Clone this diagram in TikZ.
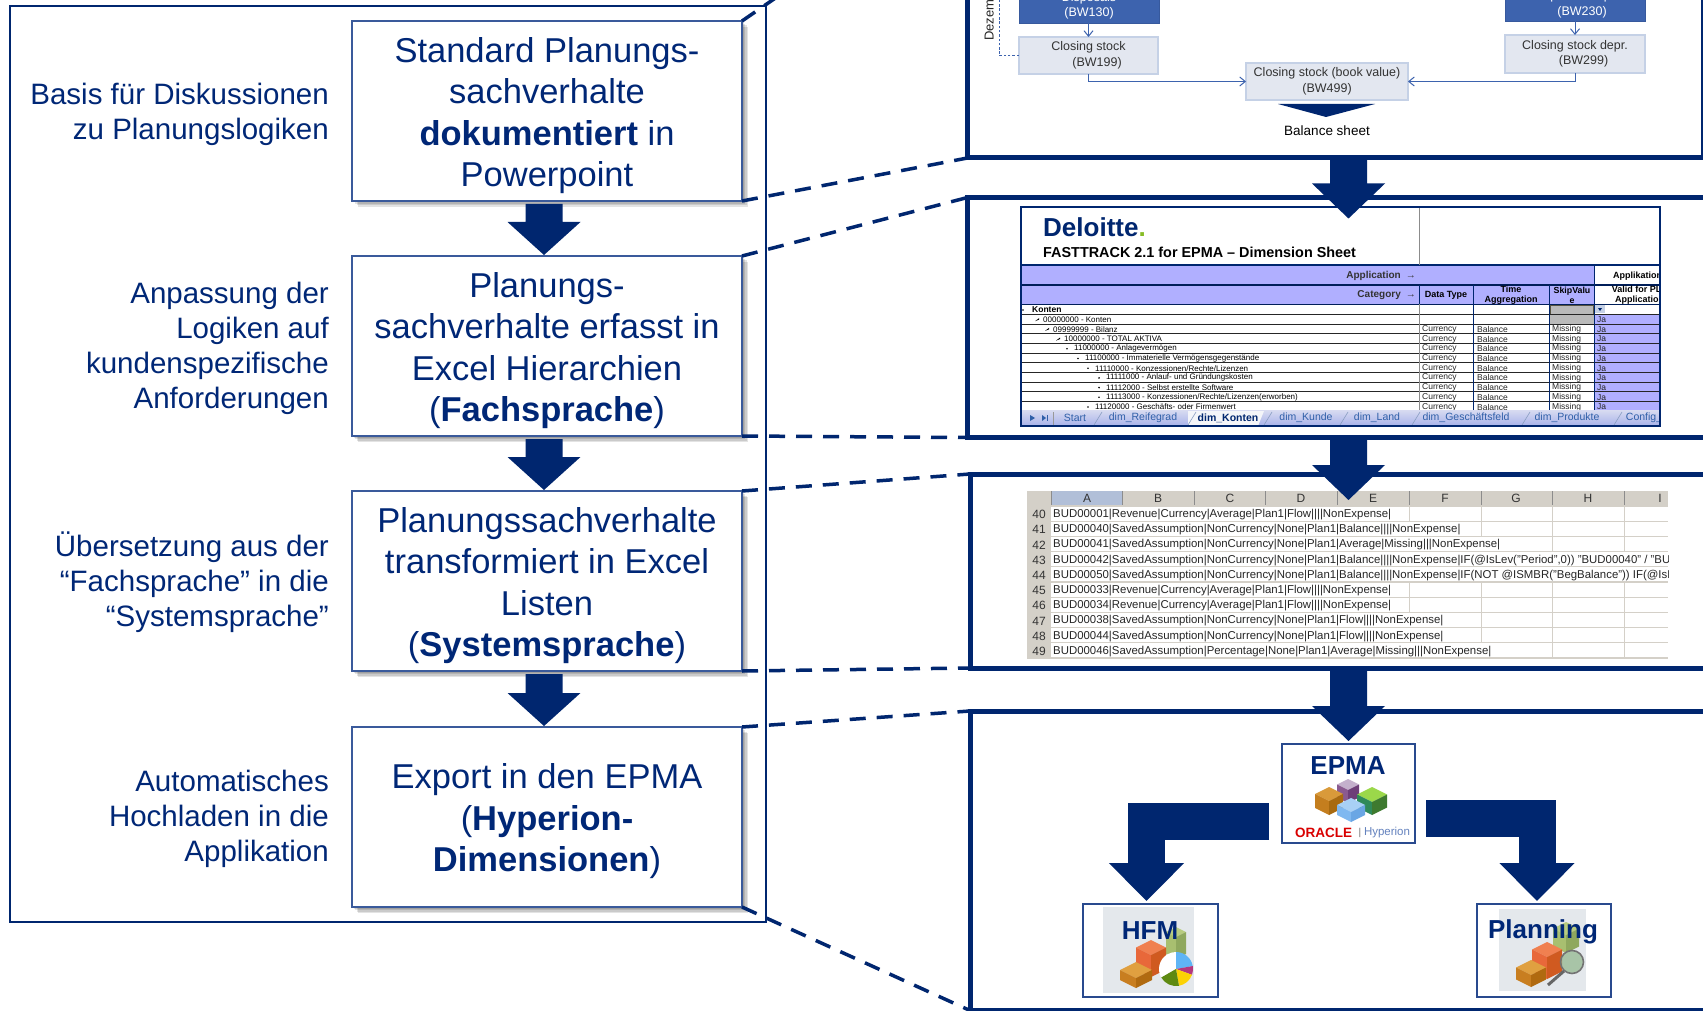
\documentclass[tikz,border=0pt]{standalone}
\usepackage{fontspec}
\setmainfont{Liberation Sans}
\usetikzlibrary{arrows.meta,calc,shapes.geometric}
\definecolor{navy}{HTML}{00266F}
\definecolor{txtnavy}{HTML}{002776}
\definecolor{boxline}{HTML}{3A5A9B}
\definecolor{midblue}{HTML}{3D63AE}
\definecolor{paleblue}{HTML}{E3E7F0}
\definecolor{paleline}{HTML}{C5D1E6}
\definecolor{lav}{HTML}{B0AFFF}
\definecolor{xlgrey}{HTML}{D4D0C8}
\definecolor{xlsel}{HTML}{B1BFD8}
\definecolor{tabblue}{HTML}{2F5FA8}
\definecolor{icongrey}{HTML}{E4E8EC}
\definecolor{purT}{HTML}{C4B0CC}\definecolor{purL}{HTML}{8A5A90}\definecolor{purR}{HTML}{6E3F78}
\definecolor{grnT}{HTML}{9BD84A}\definecolor{grnL}{HTML}{2F8A5A}\definecolor{grnR}{HTML}{3E7A2F}
\definecolor{ambT}{HTML}{D99A3A}\definecolor{ambL}{HTML}{C47E1E}\definecolor{ambR}{HTML}{A86A10}
\definecolor{aquT}{HTML}{A8D0F5}\definecolor{aquL}{HTML}{7FB8F0}\definecolor{aquR}{HTML}{6AA6E4}
\definecolor{olvT}{HTML}{B8CC80}\definecolor{olvL}{HTML}{A8BF70}\definecolor{olvR}{HTML}{8FA85E}
\definecolor{redT}{HTML}{F08050}\definecolor{redL}{HTML}{E8683A}\definecolor{redR}{HTML}{D05A20}
\definecolor{brnT}{HTML}{E0A040}\definecolor{brnL}{HTML}{C87E20}\definecolor{brnR}{HTML}{B06A10}
\definecolor{pieB}{HTML}{5FB4F5}\definecolor{pieG}{HTML}{5E8A12}\definecolor{lens}{HTML}{8FB58A}
\definecolor{dltgreen}{HTML}{86BC25}
\newcommand\fsz[2]{\fontsize{#1}{#2}\selectfont}
\newcommand\firstline{\rule{0pt}{34pt}}
\newcommand\sqbox[7]{\node[#1,anchor=north west,inner sep=0pt,outer sep=0pt,align=center,minimum width={(#5-#3)*1pt},minimum height={(#6-#4)*1pt}] (#2) at (#3,#4) {#7};}
\newcommand\shadowed[4]{\foreach \d in {1.5,3,4.5,6}{\fill[black,opacity=.11] ($(#1,#2)+(\d,\d)$) rectangle ($(#3,#4)+(\d,\d)$);}}
\newcommand\cube[7]{% cx top halfw height top left right
  \fill[#5] (#1,#2) -- ({#1+#3},{#2+#3*.5}) -- (#1,{#2+#3}) -- ({#1-#3},{#2+#3*.5}) -- cycle;
  \fill[#6] ({#1-#3},{#2+#3*.5}) -- (#1,{#2+#3}) -- (#1,{#2+#3+#4}) -- ({#1-#3},{#2+#3*.5+#4}) -- cycle;
  \fill[#7] ({#1+#3},{#2+#3*.5}) -- (#1,{#2+#3}) -- (#1,{#2+#3+#4}) -- ({#1+#3},{#2+#3*.5+#4}) -- cycle;}
\newcommand\blockdown[3]{% from, to, head length
  \fill[navy] ($(#1)+(-18.5,0)$) -- ($(#1)+(18.5,0)$) -- ($(#2)+(18.5,-#3)$) -- ($(#2)+(36.5,-#3)$) -- (#2) -- ($(#2)+(-36.5,-#3)$) -- ($(#2)+(-18.5,-#3)$) -- cycle;}
\tikzset{
  stepbox/.style={draw=boxline,line width=1.3pt,fill=white,text=txtnavy,font=\fsz{34.5}{41.5}},
  sidelabel/.style={anchor=east,align=right,text=txtnavy,inner sep=0pt,font=\fsz{29.5}{35.2}},
  panel/.style={draw=navy,line width=5pt,fill=white},
  elbowarrow/.style={draw=navy,line width=37pt,miter limit=10,-{Triangle[width=73pt,length=38pt]}},
  dashlink/.style={draw=navy,line width=3.5pt,dash pattern=on 16pt off 11pt},
  flowblue/.style={draw=midblue!90!black,line width=1pt,fill=midblue,text=white,font=\fsz{12.5}{15.5}},
  flowpale/.style={draw=paleline,line width=1.2pt,fill=paleblue,text=black!80,font=\fsz{12.5}{15.5}},
  thinarrow/.style={draw=midblue,line width=1pt,-{Straight Barb[width=9pt,length=5.5pt]}},
  sheetrow/.style={anchor=west,inner sep=0pt,font=\fsz{8}{9},text=black},
  sheetcell/.style={anchor=west,inner sep=0pt,font=\fsz{8.5}{9},text=black!85},
  sheethead/.style={inner sep=0pt,align=center,font=\bfseries\fsz{9}{10},text=black},
  tabtext/.style={inner sep=0pt,font=\fsz{10.5}{12},text=tabblue},
  xlrow/.style={anchor=west,inner sep=0pt,font=\fsz{11.4}{13},text=black!85},
  xlhead/.style={inner sep=0pt,font=\fsz{12}{13},text=black!80},
  appbox/.style={draw=boxline!70!navy,line width=1.8pt,fill=white},
  applabel/.style={inner sep=0pt,font=\bfseries\fsz{26}{28},text=txtnavy},
}
\begin{document}
\begin{tikzpicture}[x=1pt,y=-1pt]
\useasboundingbox (0,0) rectangle (1703,1011);
\clip (0,0) rectangle (1703,1011);
\fill[white] (0,0) rectangle (1703,1011);

% outer frame
\sqbox{draw=navy,line width=2pt}{outer}{10}{6}{766}{922}{}

% step boxes
\shadowed{352}{21}{742}{201}
\shadowed{352}{256}{742}{436}
\shadowed{352}{491}{742}{671}
\shadowed{352}{727}{742}{907}
\sqbox{stepbox}{b1}{352}{21}{742}{201}{\firstline Standard Planungs-\\sachverhalte\\\textbf{dokumentiert} in\\Powerpoint}
\sqbox{stepbox}{b2}{352}{256}{742}{436}{\firstline Planungs-\\sachverhalte erfasst in\\Excel Hierarchien\\(\textbf{Fachsprache})}
\sqbox{stepbox}{b3}{352}{491}{742}{671}{\firstline Planungssachverhalte\\transformiert in Excel\\Listen\\(\textbf{Systemsprache})}
\sqbox{stepbox}{b4}{352}{727}{742}{907}{\firstline Export in den EPMA\\(\textbf{Hyperion-}\\\textbf{Dimensionen})}

% side labels
\node[sidelabel] (l1) at (329,114) {Basis für Diskussionen\\zu Planungslogiken};
\node[sidelabel] (l2) at (329,348.5) {Anpassung der\\Logiken auf\\kundenspezifische\\Anforderungen};
\node[sidelabel] (l3) at (329,582.5) {Übersetzung aus der\\“Fachsprache” in die\\“Systemsprache”};
\node[sidelabel] (l4) at (329,819) {Automatisches\\Hochladen in die\\Applikation};

% panels
\sqbox{panel}{p1}{967.5}{-20}{1703}{158}{}
\sqbox{panel}{p2}{967.5}{197.5}{1760}{437.5}{}
\sqbox{panel}{p3}{970}{474}{1760}{668}{}
\sqbox{panel}{p4}{970}{711}{1760}{1010.5}{}

% dashed links
\coordinate (p1top) at (790,-12);
\draw[dashlink] (b1.north east) -- (p1top);
\draw[dashlink] (b1.south east) -- (p1.south west);
\draw[dashlink] (b2.north east) -- (p2.north west);
\draw[dashlink] (b2.south east) -- (p2.south west);
\draw[dashlink] (b3.north east) -- (p3.north west);
\draw[dashlink] (b3.south east) -- (p3.south west);
\draw[dashlink] (b4.north east) -- (p4.north west);
\draw[dashlink] (b4.south east) -- (p4.south west);

% arrows between steps
\coordinate (a1s) at ([xshift=-3pt,yshift=-3pt]b1.south);
\coordinate (a1e) at ([xshift=-3pt,yshift=1pt]b2.north);
\coordinate (a2s) at ([xshift=-3pt,yshift=-3pt]b2.south);
\coordinate (a2e) at ([xshift=-3pt,yshift=1pt]b3.north);
\coordinate (a3s) at ([xshift=-3pt,yshift=-3pt]b3.south);
\coordinate (a3e) at ([xshift=-3pt,yshift=1pt]b4.north);
\blockdown{a1s}{a1e}{33}
\blockdown{a2s}{a2e}{33}
\blockdown{a3s}{a3e}{33}

% --- panel 1: flow
\sqbox{flowblue}{d1}{1019}{-12}{1159}{23.5}{Disposals\\(BW130)}
\sqbox{flowblue}{d2}{1505}{-13}{1645}{21.5}{Disposals depr.\\\hspace*{14pt}(BW230)}
\sqbox{flowpale}{c1}{1019}{37}{1158}{74}{Closing stock\\\hspace*{17pt}(BW199)}
\sqbox{flowpale}{c2}{1505}{35}{1645}{73}{Closing stock depr.\\\hspace*{17pt}(BW299)}
\sqbox{flowpale}{bv}{1246}{63}{1408}{100}{Closing stock (book value)\\(BW499)}
\draw[thinarrow] (d1.south -| c1.north) -- (c1.north);
\draw[thinarrow] (d2.south -| c2.north) -- (c2.north);
\draw[thinarrow] (c1.south) |- (bv.west);
\draw[thinarrow] (c2.south) |- (bv.east);
\coordinate (dzt) at (999,-2);
\draw[draw=midblue,line width=.9pt,dash pattern=on 2.5pt off 1.8pt] (c1.west) -- (c1.west -| dzt) -- (dzt);
\node[rotate=90,anchor=west,inner sep=0pt,font=\fsz{13}{15},text=black!85] (dz) at (989,41) {Dezember};
\fill[navy] ($(bv.south)+(-49,4)$) -- ($(bv.south)+(48,4)$) -- ($(bv.south)+(-1,17)$) -- cycle;
\node[inner sep=0pt,font=\fsz{13.5}{15},text=black] (bs) at (1327,131) {Balance sheet};

% --- panel 2: sheet
\sqbox{fill=white}{sheet}{1021}{207}{1660}{426}{}
\begin{scope}
\clip (1021,207) rectangle (1660,426);
\fill[lav] (1021,265) rectangle (1594,304);
\fill[lav] (1594,314) rectangle (1660,410);
\fill[white] (1594,265) rectangle (1660,304);
\fill[black!27] (1549,304) rectangle (1594,324);
\draw[draw=black!60!yellow!60!black,line width=1pt] (1550,305) rectangle (1593,314);
\fill[paleline] (1595,305) rectangle (1605,313);
\fill[navy] (1598,308) -- (1602,308) -- (1600,311) -- cycle;
\foreach \r in {0,...,10}{\draw[black!85,line width=.7pt] (1021,{314.2+9.7*\r}) -- (1660,{314.2+9.7*\r});}
\draw[navy,line width=1.3pt] (1021,265) -- (1660,265);
\draw[navy!80!black,line width=1.1pt] (1021,285) -- (1660,285);
\draw[navy!80!black,line width=1.1pt] (1021,304.5) -- (1660,304.5);
\draw[black!45,line width=1pt] (1419,207) -- (1419,265);
\draw[black!45,line width=.8pt] (1419,304) -- (1419,410);
\draw[navy,line width=.8pt] (1419,285) -- (1419,304);
\draw[navy,line width=.8pt] (1473,285) -- (1473,410);
\draw[navy,line width=.8pt] (1549,285) -- (1549,410);
\draw[navy,line width=.8pt] (1594,265) -- (1594,410);
\node[anchor=west,inner sep=0pt,font=\bfseries\fsz{26}{28},text=navy] (dlt) at (1043,227) {Deloitte\textcolor{dltgreen}{.}};
\node[anchor=west,inner sep=0pt,font=\bfseries\fsz{14.4}{16},text=black] (ft) at (1043,252) {FASTTRACK 2.1 for EPMA – Dimension Sheet};
\node[sheethead,anchor=east,font=\bfseries\fsz{10}{11},text=black!80] (ap) at (1416,276) {Application\hspace{5pt}→};
\node[sheethead,anchor=east,font=\bfseries\fsz{10}{11},text=black!80] (cat) at (1416,295) {Category\hspace{5pt}→};
\node[sheethead] (hd1) at (1446,295) {Data Type};
\node[sheethead] (hd2) at (1511,295) {Time\\Aggregation};
\node[sheethead,font=\bfseries\fsz{8.8}{10}] (hd3) at (1572,295) {SkipValu\\e};
\node[sheethead,anchor=west] (hd4) at (1613,276) {Applikation};
\node[sheethead,anchor=north west,align=center] (hd5) at (1609,285.5) {Valid for PL\\\hspace*{6pt}Application};
\node[sheetrow,font=\bfseries\fsz{8.5}{9}] (r0) at (1032,310) {Konten};
\foreach \i/\xx/\t in {1/1043/{00000000 - Konten},2/1053/{09999999 - Bilanz},3/1064/{10000000 - TOTAL AKTIVA},4/1074/{11000000 - Anlagevermögen},5/1085/{11100000 - Immaterielle Vermögensgegenstände},6/1095/{11110000 - Konzessionen/Rechte/Lizenzen},7/1106/{11111000 - Anlauf- und Gründungskosten},8/1106/{11112000 - Selbst erstellte Software},9/1106/{11113000 - Konzessionen/Rechte/Lizenzen(erworben)},10/1095/{11120000 - Geschäfts- oder Firmenwert}}{
  \node[sheetrow] (r\i) at (\xx,{310+9.7*\i}) {\t};
  \ifnum\i<4 \fill[black] ({\xx-8},{311.5+9.7*\i}) -- ({\xx-4},{308.5+9.7*\i}) -- ({\xx-4},{310+9.7*\i}) -- cycle;
  \else \fill[black] ({\xx-7},{310+9.7*\i}) circle (.9pt); \fi
}
\fill[black] (1023,310) circle (.8pt);
\foreach \i in {2,...,10}{
  \node[sheetcell] (ca\i) at (1422,{310+9.7*\i}) {Currency};
  \node[sheetcell] (cb\i) at (1477,{310+9.7*\i}) {Balance};
  \node[sheetcell] (cc\i) at (1552,{310+9.7*\i}) {Missing};
}
\foreach \i in {1,...,10}{\node[sheetcell] (cd\i) at (1597,{310+9.7*\i}) {Ja};}
% tab bar
\shade[top color=blue!5!paleblue,bottom color=paleline!85!blue] (1021,410) rectangle (1660,426);
\fill[white!60!paleblue] (1188,411) -- (1264,411) -- (1258,426) -- (1188,426) -- cycle;
\foreach \xs in {1094,1188,1264,1340,1412,1522,1614}{\draw[paleline!70!navy,line width=.6pt] (\xs,425) -- ({\xs+8},412);}
\draw[black!40,line width=.6pt] (1053,412) -- (1053,425);
\fill[tabblue] (1030,415) -- (1035,418) -- (1030,421) -- cycle;
\fill[tabblue] (1042,415) -- (1046,418) -- (1042,421) -- cycle;
\draw[tabblue,line width=.8pt] (1047,415) -- (1047,421);
\node[tabtext] (t1) at (1075,418) {Start};
\node[tabtext] (t2) at (1143,418) {dim\_Reifegrad};
\node[tabtext,font=\bfseries\fsz{10.5}{12},text=navy] (t3) at (1228,418) {dim\_Konten};
\node[tabtext] (t4) at (1306,418) {dim\_Kunde};
\node[tabtext] (t5) at (1377,418) {dim\_Land};
\node[tabtext] (t6) at (1466,418) {dim\_Geschäftsfeld};
\node[tabtext] (t7) at (1567,418) {dim\_Produkte};
\node[tabtext] (t8) at (1644,418) {Config\_};
\end{scope}
\draw[navy,line width=1.5pt] (sheet.north west) rectangle (sheet.south east);

% --- panel 3: excel
\begin{scope}
\clip (1027,491) rectangle (1668,658);
\fill[xlgrey] (1027,491) rectangle (1668,506);
\fill[xlgrey] (1027,491) rectangle (1051,658);
\fill[xlsel] (1051,491) rectangle (1122,506);
\draw[navy!60,line width=1pt] (1051,505.5) -- (1122,505.5);
\foreach \xc in {1051,1122,1194,1265,1337,1409,1481,1552,1624}{\draw[black!45,line width=.5pt] (\xc,491) -- (\xc,506);}
\foreach \r in {0,...,10}{\draw[xlgrey,line width=1.3pt] (1027,{506+15.2*\r}) -- (1668,{506+15.2*\r});}
\foreach \xc/\ya/\yb in {1409/0/1,1481/0/2,1552/0/3,1624/0/3,1409/5/7,1481/5/9,1552/5/9,1552/9/10,1624/5/10}{\draw[xlgrey,line width=.9pt] (\xc,{506+15.2*\ya}) -- (\xc,{506+15.2*\yb});}
\foreach \c/\xc in {A/1087,B/1158,C/1230,D/1301,E/1373,F/1445,G/1516,H/1588,I/1660}{\node[xlhead] (xh\c) at (\xc,498) {\c};}
\foreach \r/\n in {0/40,1/41,2/42,3/43,4/44,5/45,6/46,7/47,8/48,9/49}{\node[xlhead] (xn\n) at (1039,{514.5+15.2*\r}) {\n};}
\node[xlrow] (x0) at (1053,514.5) {BUD00001|Revenue|Currency|Average|Plan1|Flow||||NonExpense|};
\node[xlrow] (x1) at (1053,529.7) {BUD00040|SavedAssumption|NonCurrency|None|Plan1|Balance||||NonExpense|};
\node[xlrow] (x2) at (1053,544.9) {BUD00041|SavedAssumption|NonCurrency|None|Plan1|Average|Missing|||NonExpense|};
\node[xlrow] (x3) at (1053,560.1) {BUD00042|SavedAssumption|NonCurrency|None|Plan1|Balance||||NonExpense|IF(@IsLev("Period",0)) "BUD00040" / "BUD};
\node[xlrow] (x4) at (1053,575.3) {BUD00050|SavedAssumption|NonCurrency|None|Plan1|Balance||||NonExpense|IF(NOT @ISMBR("BegBalance")) IF(@IsLev};
\node[xlrow] (x5) at (1053,590.5) {BUD00033|Revenue|Currency|Average|Plan1|Flow||||NonExpense|};
\node[xlrow] (x6) at (1053,605.7) {BUD00034|Revenue|Currency|Average|Plan1|Flow||||NonExpense|};
\node[xlrow] (x7) at (1053,620.9) {BUD00038|SavedAssumption|NonCurrency|None|Plan1|Flow||||NonExpense|};
\node[xlrow] (x8) at (1053,636.1) {BUD00044|SavedAssumption|NonCurrency|None|Plan1|Flow||||NonExpense|};
\node[xlrow] (x9) at (1053,651.3) {BUD00046|SavedAssumption|Percentage|None|Plan1|Average|Missing|||NonExpense|};
\end{scope}

% --- panel 4: applications
\sqbox{appbox}{epma}{1282}{744}{1415}{843}{}
\sqbox{appbox}{hfm}{1083}{904}{1218}{997}{}
\sqbox{appbox}{plan}{1477}{904}{1611}{997}{}
\coordinate (big1s) at (p1.south -| epma.north);
\coordinate (big1e) at ($(p2.north -| epma.north)+(0,21)$);
\coordinate (big2s) at (p2.south -| epma.north);
\coordinate (big2e) at ($(p3.north -| epma.north)+(0,26)$);
\coordinate (big3s) at (p3.south -| epma.north);
\coordinate (big3e) at ($(p4.north -| epma.north)+(0,30)$);
\blockdown{big1s}{big1e}{35}
\blockdown{big2s}{big2e}{35}
\blockdown{big3s}{big3e}{35}
\coordinate (ha) at (1269,821);
\coordinate (pa) at (1426,818);
\draw[elbowarrow] (ha) -| ([xshift=-4pt,yshift=3pt]hfm.north);
\draw[elbowarrow] (pa) -| ([xshift=-7pt,yshift=3pt]plan.north);

% EPMA icon
\node[applabel] (epmat) at (1348,766) {EPMA};
\cube{1348}{779}{11}{13}{purT}{purL}{purR}
\cube{1372}{787}{15}{13}{grnT}{grnL}{grnR}
\cube{1329}{787}{14}{14}{ambT}{ambL}{ambR}
\cube{1351}{798}{14}{10}{aquT}{aquL}{aquR}
\node[inner sep=0pt,font=\bfseries\fsz{13.5}{14},text=red!85!black] (orc) at (1323.5,833) {ORACLE};
\node[inner sep=0pt,font=\fsz{10}{12},text=black!55] (orb) at (1360,833) {|};
\node[inner sep=0pt,font=\fsz{11.5}{13},text=midblue!80] (hyp) at (1387,833) {Hyperion};

% HFM icon
\fill[icongrey] (1103,907) rectangle (1194,993);
\cube{1176}{927}{10}{22}{olvT}{olvL}{olvR}
\cube{1151}{940}{15}{22}{redT}{redL}{redR}
\cube{1136}{962}{16}{10}{brnT}{brnL}{brnR}
\begin{scope}[shift={(1176,969)}]
\fill[white] (0,0) -- (150:17) arc[start angle=150,end angle=270,radius=17] -- cycle;
\fill[pieB] (0,0) -- (270:17) arc[start angle=270,end angle=350,radius=17] -- cycle;
\fill[magenta!70!black] (0,0) -- (350:17) arc[start angle=350,end angle=380,radius=17] -- cycle;
\fill[yellow!70!orange] (0,0) -- (20:17) arc[start angle=20,end angle=80,radius=17] -- cycle;
\fill[pieG] (0,0) -- (80:17) arc[start angle=80,end angle=150,radius=17] -- cycle;
\end{scope}
\node[applabel] (hfmt) at (1150,931) {HFM};

% Planning icon
\fill[icongrey] (1499,909) rectangle (1586,991);
\cube{1566}{922}{13}{18}{olvT}{olvL}{olvR}
\cube{1547}{942}{15}{22}{redT}{redL}{redR}
\cube{1531}{960}{15}{12}{brnT}{brnL}{brnR}
\fill[lens,opacity=.7] (1572,962) circle (11pt);
\draw[black!55,line width=1.6pt] (1572,962) circle (11.5pt);
\draw[black!60,line width=3pt] (1564,971) -- (1548,985);
\node[applabel] (plant) at (1543,932) {Planning};
\end{tikzpicture}
\end{document}
